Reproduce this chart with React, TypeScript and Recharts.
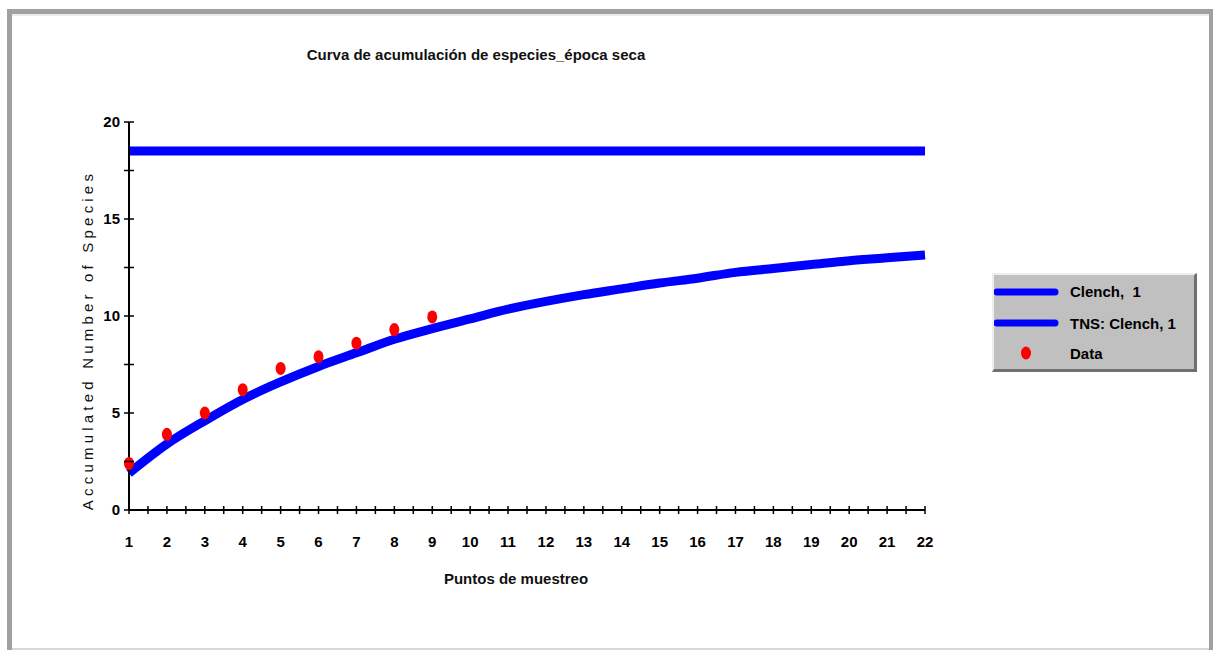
import { ComposedChart, Line, Scatter, XAxis, YAxis } from "recharts";

const samplePoints = [1, 2, 3, 4, 5, 6, 7, 8, 9, 10, 11, 12, 13, 14, 15, 16, 17, 18, 19, 20, 21, 22];
const clench = [1.9, 3.4, 4.6, 5.7, 6.6, 7.4, 8.1, 8.8, 9.35, 9.85, 10.35, 10.75, 11.1, 11.4, 11.7, 11.95, 12.25, 12.45, 12.65, 12.85, 13.0, 13.15];
const tnsClench = [18.5, 18.5, 18.5, 18.5, 18.5, 18.5, 18.5, 18.5, 18.5, 18.5, 18.5, 18.5, 18.5, 18.5, 18.5, 18.5, 18.5, 18.5, 18.5, 18.5, 18.5, 18.5];
const observed = [2.4, 3.9, 5.0, 6.2, 7.3, 7.9, 8.6, 9.3, 9.95];

const xTicks = Array.from({ length: 43 }, (_, i) => 1 + i * 0.5);
const yTicks = [0, 2.5, 5, 7.5, 10, 12.5, 15, 17.5, 20];

const rows = samplePoints.map((x, i) => ({
  x, clench: clench[i], tns: tnsClench[i],
}));
const dots = observed.map((v, i) => ({ x: samplePoints[i], data: v }));

const FONT = "'Liberation Sans Narrow', 'Liberation Sans', Arial, sans-serif";
const BLUE = "#0000ff";

function XTick({ x, y, payload }: any) {
  const v = payload.value as number;
  const major = Number.isInteger(v);
  return (
    <g>
      <line x1={x} x2={x} y1={y - 12} y2={y - 4} stroke="#000" strokeWidth={1.5} />
      {major && (
        <text x={x} y={y + 29} textAnchor="middle" fontFamily={FONT} fontWeight="bold" fontSize={15} fill="#000">
          {v}
        </text>
      )}
    </g>
  );
}

function YTick({ x, y, payload }: any) {
  const v = payload.value as number;
  const major = v % 5 === 0;
  return (
    <g>
      <line x1={x + 3} x2={x + 13} y1={y} y2={y} stroke="#000" strokeWidth={1.5} />
      {major && (
        <text x={x - 1} y={y + 5} textAnchor="end" fontFamily={FONT} fontWeight="bold" fontSize={15} fill="#000">
          {v}
        </text>
      )}
    </g>
  );
}

function LegendBox() {
  return (
    <div style={{
      position: "absolute", left: 992, top: 273,
      width: 205, height: 99, boxSizing: "border-box", background: "#c0c0c0",
      borderTop: "2px solid #eeeeee", borderLeft: "2px solid #eeeeee",
      borderRight: "3px solid #707070", borderBottom: "3px solid #707070",
      fontFamily: FONT, fontWeight: "bold", fontSize: 15, color: "#111",
    }}>
      <svg width={200} height={94} style={{ display: "block" }}>
        <line x1={3} x2={61} y1={17} y2={17} stroke={BLUE} strokeWidth={7} strokeLinecap="round" />
        <text x={76} y={22} style={{ whiteSpace: "pre" }}>{"Clench,  1"}</text>
        <line x1={3} x2={61} y1={48} y2={48} stroke={BLUE} strokeWidth={7} strokeLinecap="round" />
        <text x={76} y={54}>TNS: Clench, 1</text>
        <ellipse cx={32} cy={78} rx={5} ry={6.5} fill="#ff0000" />
        <text x={76} y={84}>Data</text>
      </svg>
    </div>
  );
}

export default function App() {
  return (
    <div style={{ position: "relative", width: 1213, height: 650, background: "#fff", overflow: "hidden" }}>
      <style>{`body{margin:0}`}</style>
      {/* window frame */}
      <div style={{ position: "absolute", left: 7, top: 9, width: 1206, height: 5, background: "#a0a0a0" }} />
      <div style={{ position: "absolute", left: 7, top: 9, width: 5, height: 641, background: "#a0a0a0" }} />
      <div style={{ position: "absolute", left: 1209, top: 9, width: 4, height: 641, background: "#a0a0a0" }} />
      <div style={{ position: "absolute", left: 12, top: 14, width: 1197, height: 2, background: "#ececec" }} />
      <div style={{ position: "absolute", left: 12, top: 648, width: 1197, height: 2, background: "#d8d8d8" }} />

      <div style={{
        position: "absolute", left: 276, top: 46, width: 400, textAlign: "center",
        fontFamily: FONT, fontWeight: "bold", fontSize: 15, color: "#111",
      }}>
        Curva de acumulación de especies_época seca
      </div>
      <div style={{
        position: "absolute", left: 416, top: 570, width: 200, textAlign: "center",
        fontFamily: FONT, fontWeight: "bold", fontSize: 15, color: "#111",
      }}>
        Puntos de muestreo
      </div>
      <div style={{
        position: "absolute", left: 88 - 200, top: 340 - 10, width: 400, height: 20, lineHeight: "20px",
        textAlign: "center", transform: "rotate(-90deg)",
        fontFamily: "'Liberation Sans', Arial, sans-serif", fontSize: 15, letterSpacing: 4.2, color: "#111",
      }}>
        Accumulated Number of Species
      </div>

      <div style={{ position: "absolute", left: 0, top: 0 }}>
        <ComposedChart width={1213} height={650} data={rows}
          margin={{ top: 122, right: 288, bottom: 100, left: 79 }}>
          <XAxis dataKey="x" type="number" domain={[1, 22]} ticks={xTicks} interval={0}
            allowDecimals tickLine={false} axisLine={{ stroke: "#000", strokeWidth: 2 }}
            tick={<XTick />} height={40} />
          <YAxis type="number" domain={[0, 20]} ticks={yTicks} interval={0} width={50}
            tickLine={false} axisLine={{ stroke: "#000", strokeWidth: 2 }} tick={<YTick />} />
          <Line type="monotone" dataKey="tns" name="TNS: Clench, 1" stroke={BLUE} strokeWidth={9}
            dot={false} activeDot={false} isAnimationActive={false} />
          <Line type="monotone" dataKey="clench" name="Clench,  1" stroke={BLUE} strokeWidth={9}
            dot={false} activeDot={false} isAnimationActive={false} />
          <Scatter data={dots} dataKey="data" name="Data" fill="#ff0000" isAnimationActive={false}
            shape={(p: any) => <ellipse cx={p.cx} cy={p.cy} rx={5} ry={6.5} fill="#ff0000" />} />
        </ComposedChart>
      </div>
      <LegendBox />
    </div>
  );
}
